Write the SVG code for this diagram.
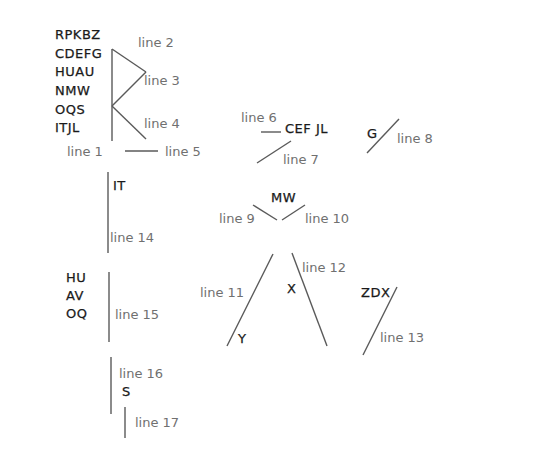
<svg xmlns="http://www.w3.org/2000/svg" width="536" height="454" viewBox="0 0 536 454">
<style>
.n{font-family:"DejaVu Sans","Liberation Sans",sans-serif;font-size:13px;fill:#1a1a1a;stroke:#1a1a1a;stroke-width:0.25;letter-spacing:0.5px}
.l{font-family:"DejaVu Sans","Liberation Sans",sans-serif;font-size:13px;fill:#707070}
.c line{stroke:#5a5a5a;stroke-width:1.4;fill:none}
</style>
<rect width="536" height="454" fill="#fff"/>
<g id="n-left">
<text class="n" x="55" y="39">RPKBZ</text>
<text class="n" x="55" y="58">CDEFG</text>
<text class="n" x="55" y="76">HUAU</text>
<text class="n" x="55" y="95">NMW</text>
<text class="n" x="55" y="114">OQS</text>
<text class="n" x="55" y="132">ITJL</text>
</g>
<g id="n-cefjl"><text class="n" x="285" y="133">CEF JL</text></g>
<g id="n-g"><text class="n" x="367" y="138">G</text></g>
<g id="n-mw"><text class="n" x="271" y="202">MW</text></g>
<g id="n-it"><text class="n" x="113" y="190">IT</text></g>
<g id="n-huavoq">
<text class="n" x="66" y="282">HU</text>
<text class="n" x="66" y="300">AV</text>
<text class="n" x="66" y="318">OQ</text>
</g>
<g id="n-x"><text class="n" x="287" y="293">X</text></g>
<g id="n-y"><text class="n" x="238" y="343">Y</text></g>
<g id="n-zdx"><text class="n" x="361" y="297">ZDX</text></g>
<g id="n-s"><text class="n" x="122" y="396">S</text></g>
<g id="connectors" class="c">
<line x1="112" y1="49" x2="112" y2="141"/>
<line x1="112" y1="49" x2="146" y2="72"/>
<line x1="146" y1="72" x2="112" y2="106"/>
<line x1="112" y1="106" x2="146" y2="139"/>
<line x1="125" y1="151" x2="158" y2="151"/>
<line x1="261" y1="132" x2="281" y2="132"/>
<line x1="257" y1="163" x2="291" y2="141"/>
<line x1="367" y1="153" x2="399" y2="119"/>
<line x1="253" y1="205" x2="277" y2="220"/>
<line x1="282" y1="220" x2="305" y2="205"/>
<line x1="273" y1="254" x2="227" y2="346"/>
<line x1="292" y1="253" x2="327" y2="346"/>
<line x1="397" y1="287" x2="363" y2="355"/>
<line x1="108" y1="172" x2="108" y2="253"/>
<line x1="109" y1="272" x2="109" y2="342"/>
<line x1="111" y1="357" x2="111" y2="414"/>
<line x1="125" y1="407" x2="125" y2="438"/>
</g>
<g id="labels">
<text class="l" x="67" y="156">line 1</text>
<text class="l" x="138" y="47">line 2</text>
<text class="l" x="144" y="85">line 3</text>
<text class="l" x="144" y="128">line 4</text>
<text class="l" x="165" y="156">line 5</text>
<text class="l" x="241" y="122">line 6</text>
<text class="l" x="283" y="164">line 7</text>
<text class="l" x="397" y="143">line 8</text>
<text class="l" x="219" y="223">line 9</text>
<text class="l" x="305" y="223">line 10</text>
<text class="l" x="200" y="297">line 11</text>
<text class="l" x="302" y="272">line 12</text>
<text class="l" x="380" y="342">line 13</text>
<text class="l" x="110" y="242">line 14</text>
<text class="l" x="115" y="319">line 15</text>
<text class="l" x="119" y="378">line 16</text>
<text class="l" x="135" y="427">line 17</text>
</g>
</svg>
